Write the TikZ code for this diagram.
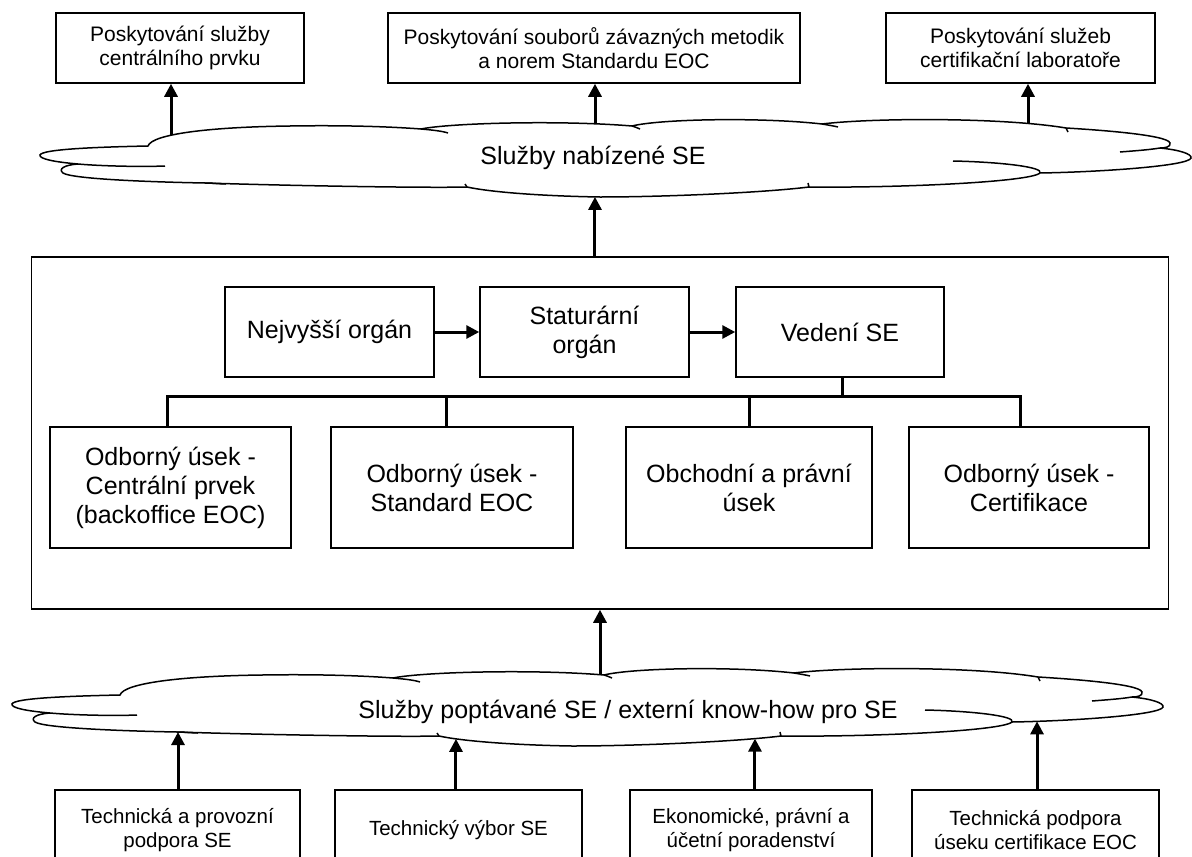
\documentclass[tikz,border=0pt]{standalone}
\usepackage{fontspec}
\setmainfont{Liberation Sans}
\usetikzlibrary{arrows.meta,intersections,calc}
\tikzset{
  smallbox/.style={draw, line width=1.5pt, align=center, inner sep=0pt,
    font=\fontsize{21}{24}\selectfont, fill=white},
  orgbox/.style={draw, line width=1.5pt, align=center, inner sep=0pt,
    font=\fontsize{25}{29}\selectfont, fill=white},
  basebox/.style={draw, line width=1.5pt, align=center, inner sep=0pt,
    font=\fontsize{20.5}{24}\selectfont, fill=white},
  arr/.style={line width=3pt, -{Triangle[length=13pt,width=13pt]}},
  tree/.style={line width=3pt},
  cloudline/.style={line width=1.5pt, fill=white},
  tailline/.style={line width=1.5pt},
  cloudtext/.style={font=\fontsize{25}{29}\selectfont, inner sep=0pt}
}
\newcommand{\cloudoutline}{%
 (40,155) .. controls (42,149) and (100,147) .. (148,146)
 .. controls (152,134) and (210,127) .. (290,126)
 .. controls (350,125) and (395,127) .. (421,129)
 .. controls (450,123) and (560,120) .. (632,126)
 .. controls (660,119) and (760,117) .. (822,124)
 .. controls (870,118) and (1000,117) .. (1066,128)
 .. controls (1100,130) and (1168,135) .. (1170,143)
 .. controls (1171,147) and (1165,148) .. (1160,148)
 .. controls (1180,150) and (1192,154) .. (1191,158)
 .. controls (1189,166) and (1100,172) .. (1040,173)
 .. controls (1030,182) and (900,188) .. (809,187)
 .. controls (760,193) and (660,197) .. (600,197)
 .. controls (540,196) and (490,192) .. (467,187)
 .. controls (430,188) and (300,186) .. (205,183)
 .. controls (150,182) and (72,179) .. (63,173)
 .. controls (58,169) and (64,165) .. (78,164)
 .. controls (55,162) and (39,159) .. (40,155) -- cycle}
\newcommand{\cloudtails}{%
 \draw[tailline] (78,164) .. controls (100,166) and (140,167) .. (165,166);
 \draw[tailline] (205,183) .. controls (212,183) and (220,184) .. (226,184);
 \draw[tailline] (421,129) .. controls (432,130) and (442,131) .. (448,133);
 \draw[tailline] (632,126) .. controls (635,127) and (638,128) .. (640,129);
 \draw[tailline] (822,124) .. controls (828,125) and (834,126) .. (838,127);
 \draw[tailline] (1066,128) -- (1068,132);
 \draw[tailline] (1160,148) .. controls (1148,150) and (1132,151) .. (1120,152);
 \draw[tailline] (1040,173) .. controls (1044,167) and (1000,162) .. (953,161);
 \draw[tailline] (809,187) -- (808,183);
 \draw[tailline] (467,187) -- (465,184);
}
\begin{document}
\begin{tikzpicture}[x=1pt,y=-1pt]
\useasboundingbox (0,0) rectangle (1192,857);
% top boxes
\node[smallbox, minimum width=248pt, minimum height=70pt] (t1) at (180,48)
  {Poskytování služby\\centrálního prvku};
\node[smallbox, minimum width=412pt, minimum height=70pt] (t2) at (594,48)
  {Poskytování souborů závazných metodik\\a norem Standardu EOC};
\node[smallbox, minimum width=269pt, minimum height=70pt] (t3) at (1020.5,48)
  {Poskytování služeb\\certifikační laboratoře};
% outer frame and org boxes
\node[draw, line width=1.5pt, minimum width=1137pt, minimum height=352pt, inner sep=0pt] (frame) at (600,433) {};
\node[orgbox, minimum width=209pt, minimum height=90pt] (n1) at (329.5,332) {Nejvyšší orgán};
\node[orgbox, minimum width=209pt, minimum height=90pt] (n2) at (584.5,332) {Staturární\\orgán};
\node[orgbox, minimum width=208pt, minimum height=90pt] (n3) at (840,332) {Vedení SE};
\node[orgbox, minimum width=241pt, minimum height=121pt] (a) at (170.5,487.5)
  {Odborný úsek -\\Centrální prvek\\(backoffice EOC)};
\node[orgbox, minimum width=242pt, minimum height=121pt] (b) at (452,487.5)
  {Odborný úsek -\\Standard EOC};
\node[orgbox, minimum width=246pt, minimum height=121pt] (c) at (749,487.5)
  {Obchodní a právní\\úsek};
\node[orgbox, minimum width=240pt, minimum height=121pt] (d) at (1029,487.5)
  {Odborný úsek -\\Certifikace};
\draw[arr] (n1) -- (n2);
\draw[arr] (n2) -- (n3);
\coordinate (bus) at (842,396);
\draw[tree] (n3.south -| bus) -- (bus);
\draw[tree] (a.north -| 167,0) |- (bus) -| (d.north -| 1020,0);
\draw[tree] (b.north -| 446,0) -- (446,396);
\draw[tree] (c.north -| 749,0) -- (749,396);
% bottom boxes
\node[basebox, minimum width=245pt, minimum height=80pt] (b1) at (177.5,830)
  {Technická a provozní\\podpora SE};
\node[basebox, minimum width=247pt, minimum height=80pt] (b2) at (458.5,830)
  {Technický výbor SE};
\node[basebox, minimum width=242pt, minimum height=80pt] (b3) at (751,830)
  {Ekonomické, právní a\\účetní poradenství};
\node[basebox, minimum width=247pt, minimum height=80pt] (b4) at (1035.5,830)
  {Technická podpora\\úseku certifikace EOC};
% arrows from the top cloud to the top boxes (tails hidden by the cloud)
\coordinate (u1) at (171,165);
\coordinate (u2) at (595,165);
\coordinate (u3) at (1028,165);
\draw[arr] (u1) -- (u1 |- t1.south);
\draw[arr] (u2) -- (u2 |- t2.south);
\draw[arr] (u3) -- (u3 |- t3.south);
% arrow from the bottom cloud to the frame
\coordinate (u4) at (600,712);
\draw[arr] (u4) -- (u4 |- frame.south);
% clouds
\draw[cloudline, name path global=topcloud] \cloudoutline;
\cloudtails
\node[cloudtext] (ctop) at (593,158) {Služby nabízené SE};
\begin{scope}[shift={(-28,549)}]
\draw[cloudline, name path global=botcloud] \cloudoutline;
\cloudtails
\end{scope}
\node[cloudtext] (cbot) at (628,712) {Služby poptávané SE / externí know-how pro SE};
% arrow from the frame to the top cloud
\path[name path global=vf] (595,258) -- (595,150);
\path[name intersections={of=topcloud and vf, by=hf}];
\draw[arr] (frame.north -| hf) -- (hf);
% arrows from the bottom boxes to the bottom cloud
\path[name path global=vb1] (178,790) -- (178,700);
\path[name path global=vb2] (456,790) -- (456,700);
\path[name path global=vb3] (755,790) -- (755,700);
\path[name path global=vb4] (1037,790) -- (1037,700);
\path[name intersections={of=botcloud and vb1, by=hb1}];
\path[name intersections={of=botcloud and vb2, by=hb2}];
\path[name intersections={of=botcloud and vb3, by=hb3}];
\path[name intersections={of=botcloud and vb4, by=hb4}];
\draw[arr] (b1.north -| hb1) -- (hb1);
\draw[arr] (b2.north -| hb2) -- (hb2);
\draw[arr] (b3.north -| hb3) -- (hb3);
\draw[arr] (b4.north -| hb4) -- (hb4);
\end{tikzpicture}
\end{document}
